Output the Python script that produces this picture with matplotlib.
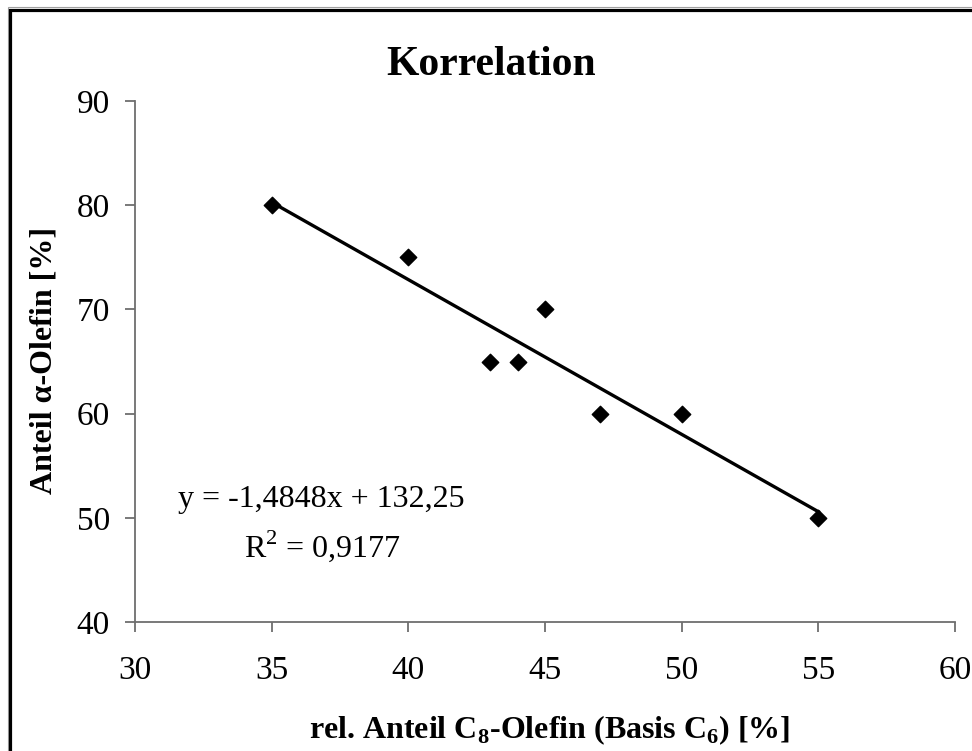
import matplotlib
matplotlib.use("Agg")
import matplotlib.pyplot as plt
from matplotlib.patches import Rectangle
import numpy as np

# Measured data
c8_share = [35, 40, 43, 44, 45, 47, 50, 55]
alpha_share = [80, 75, 65, 65, 70, 60, 60, 50]

# Linear trend coefficients
slope = -1.4848
intercept = 132.25
r_squared = 0.9177

x_ticks = [30, 35, 40, 45, 50, 55, 60]
y_ticks = [40, 50, 60, 70, 80, 90]

plt.rcParams['font.family'] = ['Liberation Serif', 'DejaVu Serif']
plt.rcParams['mathtext.fontset'] = 'custom'
plt.rcParams['mathtext.rm'] = 'Liberation Serif'
plt.rcParams['mathtext.bf'] = 'Liberation Serif:bold'

W, H = 972, 751
fig = plt.figure(figsize=(W / 100, H / 100), dpi=100)
ax = fig.add_axes([135 / W, 1 - 622 / H, (955 - 135) / W, (622 - 101) / H])

ax.scatter(c8_share, alpha_share, marker='D', s=70, color='black', zorder=3)
xs = np.array([min(c8_share), max(c8_share)])
ax.plot(xs, slope * xs + intercept, color='black', lw=2.4, zorder=2)

ax.set_xlim(30, 60)
ax.set_ylim(40, 90)
ax.set_xticks(x_ticks)
ax.set_yticks(y_ticks)
for s in ['top', 'right']:
    ax.spines[s].set_visible(False)
for s in ['left', 'bottom']:
    ax.spines[s].set_color('#6e6e6e')
    ax.spines[s].set_linewidth(1.3)
ax.tick_params(direction='out', length=7, width=1.3, color='#6e6e6e',
               labelsize=24)
ax.tick_params(axis='x', pad=17)
ax.tick_params(axis='y', pad=11)

# Titles and axis labels
fig.text(491 / W, 1 - 75 / H, 'Korrelation', fontsize=30, fontweight='bold',
         ha='center', va='baseline')
fig.text(550 / W, 1 - 738 / H,
         r'rel. Anteil C$_\mathbf{8}$-Olefin (Basis C$_\mathbf{6}$) [%]',
         fontsize=23, fontweight='bold', ha='center', va='baseline')
fig.text(44 / W, 1 - 360 / H, 'Anteil α-Olefin [%]', fontsize=23,
         fontweight='bold', rotation=90, ha='center', va='center')

# Trend equation
eq = f"y = {slope:.4f}x + {intercept:.2f}".replace('.', ',')
r2 = f"R$^2$ = {r_squared:.4f}".replace('.', ',')
ax.text(0.2274, 0.2207, eq, transform=ax.transAxes, ha='center',
        va='baseline', fontsize=23)
ax.text(0.2286, 0.1248, r2, transform=ax.transAxes, ha='center',
        va='baseline', fontsize=23)

# chart frame (runs past the right and bottom edges)
fig.patches.append(Rectangle((7.5 / W, -0.05), 1.1, 1.05 - 7.5 / H,
                             transform=fig.transFigure, fill=False,
                             edgecolor='#a0a0a0', linewidth=0.8))
fig.patches.append(Rectangle((9.5 / W, -0.05), 1.1, 1.05 - 10 / H,
                             transform=fig.transFigure, fill=False,
                             edgecolor='black', linewidth=2.3))

fig.savefig('out.png', dpi=100)
